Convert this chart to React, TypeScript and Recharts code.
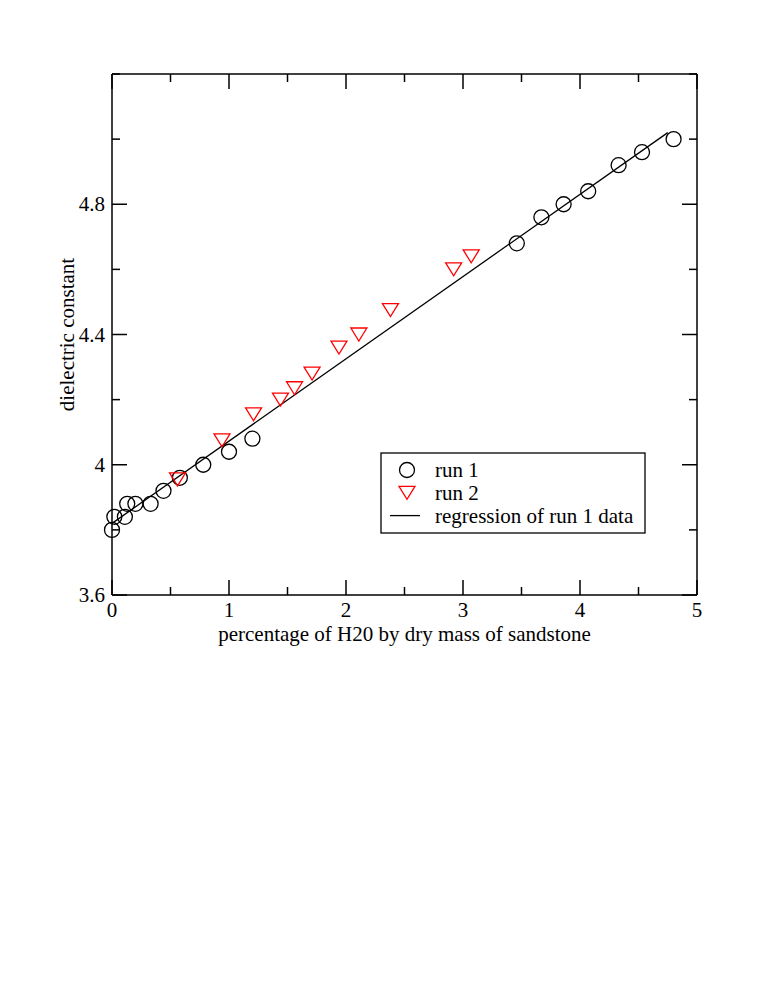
import { ScatterChart, Scatter, XAxis, YAxis, Label } from "recharts";

// run 1 (open circles)
const run1X = [0, 0.02, 0.11, 0.13, 0.2, 0.33, 0.44, 0.58, 0.78, 1.0, 1.2, 3.46, 3.67, 3.86, 4.07, 4.33, 4.53, 4.8];
const run1Y = [3.8, 3.84, 3.84, 3.88, 3.88, 3.88, 3.92, 3.96, 4.0, 4.04, 4.08, 4.68, 4.76, 4.8, 4.84, 4.92, 4.96, 5.0];

// run 2 (red down triangles)
const run2X = [0.56, 0.94, 1.21, 1.44, 1.56, 1.71, 1.94, 2.11, 2.38, 2.92, 3.07];
const run2Y = [3.955, 4.075, 4.155, 4.2, 4.235, 4.28, 4.36, 4.4, 4.475, 4.6, 4.64];

// regression of run 1 data (end points)
const regX = [0, 4.75];
const regY = [3.82, 5.02];

const xTicks = [0, 0.5, 1, 1.5, 2, 2.5, 3, 3.5, 4, 4.5, 5];
const xLabeled = [0, 1, 2, 3, 4, 5];
const yTicks = [3.6, 3.8, 4.0, 4.2, 4.4, 4.6, 4.8, 5.0, 5.2];
const yLabeled = [3.6, 4.0, 4.4, 4.8];

const FONT = '"Liberation Serif", "Times New Roman", serif';
const FS = 21;
const MAJOR = 15;
const MINOR = 8;
const AXIS_W = 1.5;

const run1 = run1X.map((x, i) => ({ x, y: run1Y[i] }));
const run2 = run2X.map((x, i) => ({ x, y: run2Y[i] }));
const reg = regX.map((x, i) => ({ x, y: regY[i] }));

const Circle = (p: any) => (
  <circle cx={p.cx} cy={p.cy} r={7.5} fill="none" stroke="#000" strokeWidth={1.3} />
);

const TriDown = (p: any) => {
  const w = 8, h = 6.5;
  const pts = `${p.cx - w},${p.cy - h} ${p.cx + w},${p.cy - h} ${p.cx},${p.cy + h}`;
  return <polygon points={pts} fill="none" stroke="#ff0000" strokeWidth={1.3} />;
};

const NoDot = () => <g />;

const BottomTick = ({ x, y, payload }: any) => {
  const major = xLabeled.includes(payload.value);
  return (
    <g>
      <line x1={x} x2={x} y1={y} y2={y - (major ? MAJOR : MINOR)} stroke="#000" strokeWidth={AXIS_W} />
      {major && (
        <text x={x} y={y + 22} textAnchor="middle" fontFamily={FONT} fontSize={FS} fill="#000">
          {payload.value}
        </text>
      )}
    </g>
  );
};

const TopTick = ({ x, y, payload }: any) => {
  const major = xLabeled.includes(payload.value);
  return <line x1={x} x2={x} y1={y} y2={y + (major ? MAJOR : MINOR)} stroke="#000" strokeWidth={AXIS_W} />;
};

const LeftTick = ({ x, y, payload }: any) => {
  const major = yLabeled.includes(payload.value);
  return (
    <g>
      <line x1={x} x2={x + (major ? MAJOR : MINOR)} y1={y} y2={y} stroke="#000" strokeWidth={AXIS_W} />
      {major && (
        <text x={x - 7} y={y + 7} textAnchor="end" fontFamily={FONT} fontSize={FS} fill="#000">
          {payload.value}
        </text>
      )}
    </g>
  );
};

const RightTick = ({ x, y, payload }: any) => {
  const major = yLabeled.includes(payload.value);
  return <line x1={x} x2={x - (major ? MAJOR : MINOR)} y1={y} y2={y} stroke="#000" strokeWidth={AXIS_W} />;
};

function LegendBox() {
  const rows = [
    { label: "run 1", kind: "circle" },
    { label: "run 2", kind: "tri" },
    { label: "regression of run 1 data", kind: "line" },
  ];
  return (
    <svg width={266} height={82} style={{ position: "absolute", left: 380, top: 452 }}>
      <rect x={1} y={1} width={264} height={80} fill="#fff" stroke="#000" strokeWidth={1.3} />
      {rows.map((r, i) => {
        const cy = 18 + i * 22.8;
        return (
          <g key={r.label}>
            {r.kind === "circle" && <Circle cx={27} cy={cy} />}
            {r.kind === "tri" && <TriDown cx={27} cy={cy} />}
            {r.kind === "line" && <line x1={10} x2={40} y1={cy} y2={cy} stroke="#000" strokeWidth={1.3} />}
            <text x={55} y={cy + 7} fontFamily={FONT} fontSize={FS} fill="#000">
              {r.label}
            </text>
          </g>
        );
      })}
    </svg>
  );
}

export default function App() {
  return (
    <div style={{ position: "absolute", left: 0, top: 0, width: 763, height: 987, background: "#fff" }}>
      <ScatterChart width={763} height={987} margin={{ top: 73, right: 65, bottom: 332, left: 52 }}>
        <XAxis
          xAxisId="b"
          dataKey="x"
          type="number"
          domain={[0, 5]}
          ticks={xTicks}
          interval={0}
          tickSize={0}
          tickMargin={0}
          tick={<BottomTick />}
          axisLine={{ stroke: "#000", strokeWidth: AXIS_W }}
          tickLine={false}
          height={60}
          orientation="bottom"
        >
          <Label
            content={({ viewBox }: any) => (
              <text
                x={viewBox.x + viewBox.width / 2}
                y={viewBox.y + 46}
                textAnchor="middle"
                fontFamily={FONT}
                fontSize={FS}
                fill="#000"
              >
                percentage of H20 by dry mass of sandstone
              </text>
            )}
          />
        </XAxis>
        <XAxis
          xAxisId="t"
          dataKey="x"
          type="number"
          domain={[0, 5]}
          ticks={xTicks}
          interval={0}
          tickSize={0}
          tickMargin={0}
          tick={<TopTick />}
          axisLine={{ stroke: "#000", strokeWidth: AXIS_W }}
          tickLine={false}
          height={1}
          orientation="top"
        />
        <YAxis
          yAxisId="l"
          dataKey="y"
          type="number"
          domain={[3.6, 5.2]}
          ticks={yTicks}
          interval={0}
          tickSize={0}
          tickMargin={0}
          tick={<LeftTick />}
          axisLine={{ stroke: "#000", strokeWidth: AXIS_W }}
          tickLine={false}
          width={60}
          orientation="left"
        >
          <Label
            content={({ viewBox }: any) => {
              const lx = viewBox.x + 22;
              const ly = viewBox.y + viewBox.height / 2;
              return (
                <text
                  x={lx}
                  y={ly}
                  transform={`rotate(-90, ${lx}, ${ly})`}
                  textAnchor="middle"
                  fontFamily={FONT}
                  fontSize={FS}
                  fill="#000"
                >
                  dielectric constant
                </text>
              );
            }}
          />
        </YAxis>
        <YAxis
          yAxisId="r"
          dataKey="y"
          type="number"
          domain={[3.6, 5.2]}
          ticks={yTicks}
          interval={0}
          tickSize={0}
          tickMargin={0}
          tick={<RightTick />}
          axisLine={{ stroke: "#000", strokeWidth: AXIS_W }}
          tickLine={false}
          width={1}
          orientation="right"
        />
        <Scatter
          name="regression of run 1 data"
          data={reg}
          xAxisId="t"
          yAxisId="r"
          line={{ stroke: "#000", strokeWidth: 1.3 }}
          shape={<NoDot />}
          isAnimationActive={false}
        />
        <Scatter name="run 1" data={run1} xAxisId="b" yAxisId="l" shape={<Circle />} isAnimationActive={false} />
        <Scatter name="run 2" data={run2} xAxisId="b" yAxisId="l" shape={<TriDown />} isAnimationActive={false} />
      </ScatterChart>
      <LegendBox />
    </div>
  );
}
